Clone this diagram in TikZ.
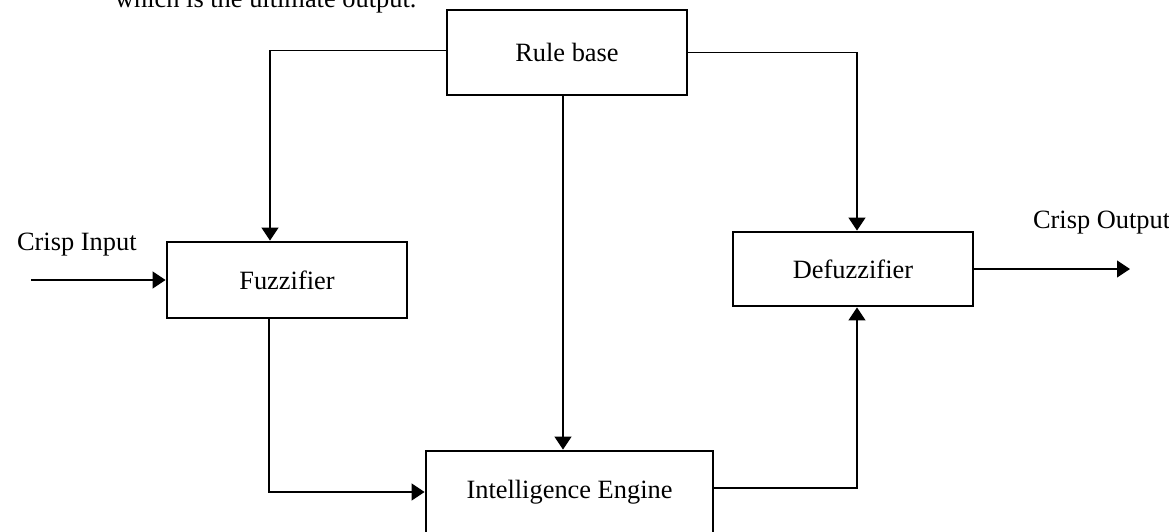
\documentclass[tikz,border=0pt]{standalone}
\usepackage{fontspec}
\setmainfont{Liberation Serif}
\usetikzlibrary{arrows.meta}
\begin{document}
\begin{tikzpicture}[x=0.5pt,y=-0.5pt,
  every node/.style={font=\fontsize{13.2}{16}\selectfont},
  block/.style={draw,line width=1.4pt,minimum width=120pt,inner sep=0pt},
  link/.style={line width=0.6pt},
  arr/.style={link,-{Triangle[length=6.5pt,width=8.5pt]}}]
\useasboundingbox (0,0) rectangle (1169,531);
%
\node[anchor=base west] (ctx) at (108,7) {which is the ultimate output.};
%
\node[block,minimum height=42.5pt] (rb) at (567,52.5) {Rule base};
\node[block,minimum height=38pt] (fz) at (287,280) {Fuzzifier};
\node[block,minimum height=37pt] (dz) at (853,269) {Defuzzifier};
\node[block,minimum width=143.5pt,minimum height=41pt] (ie) at (569.5,492) {Intelligence Engine};
%
\node[anchor=base west] (inlbl) at (10,250) {Crisp Input};
\node[anchor=base west] (outlbl) at (1026,228) {Crisp Output};
\coordinate (in) at (31,280);
\coordinate (out) at (1130,269);
%
\draw[arr] (in) -- (fz.west);
\draw[arr] ([yshift=1pt]rb.west) -| ([xshift=-8.5pt]fz.north);
\draw[arr] (rb.east) -| ([xshift=2pt]dz.north);
\draw[arr] ([xshift=-2pt]rb.south) -- ([xshift=-3.25pt]ie.north);
\draw[arr] ([xshift=-9pt]fz.south) |- (ie.west);
\draw[arr] ([yshift=2pt]ie.east) -| ([xshift=2pt]dz.south);
\draw[arr] (dz.east) -- (out);
\end{tikzpicture}
\end{document}
